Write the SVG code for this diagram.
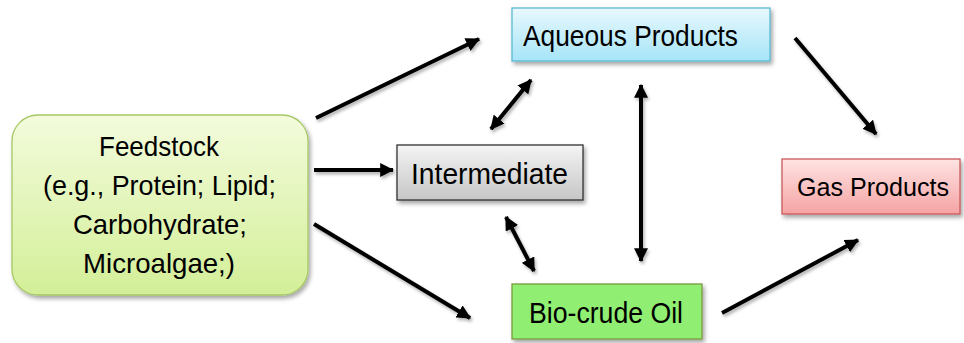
<svg xmlns="http://www.w3.org/2000/svg" width="964" height="343" viewBox="0 0 964 343">
  <defs>
    <linearGradient id="gFeed" x1="0" y1="0" x2="0" y2="1">
      <stop offset="0" stop-color="#f3fbdc"/>
      <stop offset="1" stop-color="#d3ef98"/>
    </linearGradient>
    <linearGradient id="gAq" x1="0" y1="0" x2="0" y2="1">
      <stop offset="0" stop-color="#e8f8fd"/>
      <stop offset="1" stop-color="#a6e5f8"/>
    </linearGradient>
    <linearGradient id="gInt" x1="0" y1="0" x2="0" y2="1">
      <stop offset="0" stop-color="#f4f4f4"/>
      <stop offset="1" stop-color="#c6c6c6"/>
    </linearGradient>
    <linearGradient id="gGas" x1="0" y1="0" x2="0" y2="1">
      <stop offset="0" stop-color="#ffe3e3"/>
      <stop offset="1" stop-color="#f5a3a3"/>
    </linearGradient>
    <filter id="shadow" x="-10%" y="-20%" width="130%" height="150%">
      <feDropShadow dx="2" dy="3" stdDeviation="2" flood-color="#000" flood-opacity="0.35"/>
    </filter>
    <!-- region in user space so straight horizontal/vertical lines keep their shadow -->
    <filter id="lineShadow" filterUnits="userSpaceOnUse" x="0" y="0" width="964" height="343">
      <feDropShadow dx="1.5" dy="2.5" stdDeviation="1.5" flood-color="#000" flood-opacity="0.3"/>
    </filter>
    <marker id="head" viewBox="0 0 12 12" refX="11" refY="6" markerWidth="14" markerHeight="14" markerUnits="userSpaceOnUse" orient="auto-start-reverse">
      <path d="M0,0 L12,6 L0,12 Z" fill="#000"/>
    </marker>
    <style>
      .node text { font-family: "Liberation Sans", "Open Sans", sans-serif; fill: #000; text-anchor: start; }
      .box { filter: url(#shadow); stroke-width: 1.3; }
      .conn { filter: url(#lineShadow); }
      .conn line { stroke: #000; stroke-width: 4; fill: none; }
      .one { marker-end: url(#head); }
      .two { marker-start: url(#head); marker-end: url(#head); }
    </style>
  </defs>

  <g id="feedstock" class="node">
    <rect class="box" x="12" y="115" width="296" height="180" rx="26" ry="26" fill="url(#gFeed)" stroke="#a6c864"/>
    <text x="99" y="156" font-size="28" textLength="120" lengthAdjust="spacingAndGlyphs">Feedstock</text>
    <text x="43" y="195" font-size="28" textLength="233" lengthAdjust="spacingAndGlyphs">(e.g., Protein; Lipid;</text>
    <text x="73" y="234" font-size="28" textLength="174" lengthAdjust="spacingAndGlyphs">Carbohydrate;</text>
    <text x="83" y="273" font-size="28" textLength="152" lengthAdjust="spacingAndGlyphs">Microalgae;)</text>
  </g>

  <g id="aqueous" class="node">
    <rect class="box" x="512" y="8" width="258" height="53" fill="url(#gAq)" stroke="#5bb8d2"/>
    <text x="523" y="46" font-size="29" textLength="215" lengthAdjust="spacingAndGlyphs">Aqueous Products</text>
  </g>

  <g id="intermediate" class="node">
    <rect class="box" x="397" y="145" width="186" height="55" fill="url(#gInt)" stroke="#333"/>
    <text x="411" y="184" font-size="29" textLength="157" lengthAdjust="spacingAndGlyphs">Intermediate</text>
  </g>

  <g id="gas" class="node">
    <rect class="box" x="782" y="159" width="178" height="55" fill="url(#gGas)" stroke="#c9595a"/>
    <text x="797" y="196" font-size="26.5" textLength="152" lengthAdjust="spacingAndGlyphs">Gas Products</text>
  </g>

  <g id="biocrude" class="node">
    <rect class="box" x="512" y="284" width="190" height="55" fill="#90ee72" stroke="#7a9a3e"/>
    <text x="529" y="323" font-size="29" textLength="154" lengthAdjust="spacingAndGlyphs">Bio-crude Oil</text>
  </g>

  <g id="connectors" class="conn">
    <line class="one" x1="316" y1="118" x2="479" y2="39"/>
    <line class="one" x1="314" y1="170" x2="393" y2="170"/>
    <line class="one" x1="314" y1="224" x2="470" y2="318"/>
    <line class="two" x1="531" y1="80" x2="491" y2="129"/>
    <line class="two" x1="506" y1="217" x2="534" y2="271"/>
    <line class="two" x1="641" y1="85" x2="641" y2="261"/>
    <line class="one" x1="795" y1="38" x2="876" y2="134"/>
    <line class="one" x1="722" y1="313" x2="858" y2="240"/>
  </g>
</svg>
